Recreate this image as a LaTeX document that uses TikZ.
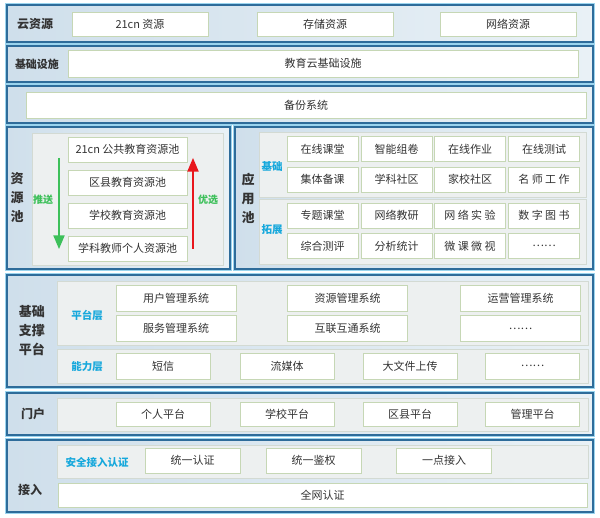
\documentclass[tikz,border=0pt]{standalone}
\usepackage{fontspec}
\setmainfont{Noto Sans CJK SC}
\usepackage{xcolor}
\usetikzlibrary{
    arrows
}
\definecolor{frameblue}{HTML}{2E6C9A}
\definecolor{frameglow}{HTML}{9AD4EE}
\definecolor{fillleft}{HTML}{CFDFEB}
\definecolor{fillright}{HTML}{E9F1F6}
\definecolor{panelfill}{HTML}{EDF0F0}
\definecolor{panelline}{HTML}{D3DAD3}
\definecolor{cellline}{HTML}{C6D7B5}
\definecolor{textgray}{HTML}{333333}
\definecolor{tagcyan}{HTML}{16A8DC}
\definecolor{pushgreen}{HTML}{3DC05A}
\definecolor{pickred}{HTML}{E8161C}
\tikzset{
    % outer band of one layer
    band/.style={
        draw=frameblue, line width=1.3pt,
        left color=fillleft, right color=fillright,
        preaction={draw=frameglow, line width=3.2pt}
    },
    % grey inner panel
    panel/.style={draw=panelline, fill=panelfill, line width=0.6pt},
    % white box with text
    cellbox/.style 2 args={
        draw=cellline, fill=white, line width=0.8pt,
        minimum width=#1, minimum height=#2, inner sep=0pt,
        font=\fontsize{11}{13}\selectfont, text=textgray
    },
    rowlabel/.style={font=\bfseries\fontsize{12}{17}\selectfont, text=textgray, align=center, inner sep=0pt},
    layertag/.style={font=\bfseries\fontsize{10.5}{12}\selectfont, text=tagcyan, inner sep=0pt},
    arrowlabel/.style={font=\bfseries\fontsize{10}{12}\selectfont, text=pushgreen, inner sep=0pt},
    push/.style={draw=pushgreen, line width=2.2pt, -triangle 45},
    pick/.style={draw=pickred, line width=2.2pt, -triangle 45}
}
\begin{document}
\begin{tikzpicture}[x=1pt, y=-1pt]
    \useasboundingbox (0,0) rectangle (600,518);
    % layer bands
    \foreach \ya/\yb in {5/42, 46/82, 86/123, 275/387, 393/435, 440/512} {
        \path[band] (7,\ya) rectangle (593,\yb);
    }
    \path[band] (7,127) rectangle (230,269);
    \path[band] (235,127) rectangle (593,269);
    % inner panels
    \path[panel] (32,133) rectangle (223,265);
    \path[panel] (259,132) rectangle (586,197);
    \path[panel] (259,199) rectangle (586,264);
    \path[panel] (57,281) rectangle (588,345);
    \path[panel] (57,349) rectangle (588,383);
    \path[panel] (57,398) rectangle (588,431);
    \path[panel] (57,445) rectangle (588,478);

    % cloud resources
    \node[rowlabel] (l1) at (35,24) {云资源};
    \foreach \n/\x/\t in {c1/140/21cn 资源, c2/325/存储资源, c3/508/网络资源} {
        \node[cellbox={136pt}{24pt}] (\n) at (\x,24) {\t};
    }
    % infrastructure
    \node[rowlabel, font=\bfseries\fontsize{11}{13}\selectfont] (l2) at (37,64) {基础设施};
    \node[cellbox={510pt}{27pt}] (i1) at (323,63.5) {教育云基础设施};
    % backup
    \node[cellbox={560pt}{26pt}] (b1) at (306,105) {备份系统};

    % resource pool
    \node[rowlabel, font=\bfseries\fontsize{13}{19}\selectfont] (l3) at (17,198) {资\\源\\池};
    \foreach \n/\y/\t in {p1/149.5/21cn 公共教育资源池, p2/182.5/区县教育资源池,
                          p3/215.5/学校教育资源池, p4/248.5/学科教师个人资源池} {
        \node[cellbox={119pt}{25pt}] (\n) at (127.5,\y) {\t};
    }
    \coordinate (s1) at (59,158);
    \coordinate (s2) at (59,249);
    \coordinate (u1) at (193,249);
    \coordinate (u2) at (193,158);
    \draw[push] (s1) -- (s2);
    \draw[pick] (u1) -- (u2);
    \node[arrowlabel] (n1) at (43,200) {推送};
    \node[arrowlabel] (n2) at (208,200) {优选};

    % application pool
    \node[rowlabel, font=\bfseries\fontsize{13}{19}\selectfont] (l4) at (248,198) {应\\用\\池};
    \node[layertag] (g1) at (272,167) {基础};
    \node[layertag] (g2) at (272,230) {拓展};
    \foreach \r/\y/\ta/\tb/\tc/\td in {1/149/在线课堂/智能组卷/在线作业/在线测试,
                                       2/179.5/集体备课/学科社区/家校社区/名 师 工 作,
                                       3/215.5/专题课堂/网络教研/网 络 实 验/数 字 图 书,
                                       4/246/综合测评/分析统计/微 课 微 视/……} {
        \node[cellbox={71pt}{25pt}] (a\r-1) at (322.5,\y) {\ta};
        \node[cellbox={71pt}{25pt}] (a\r-2) at (396.5,\y) {\tb};
        \node[cellbox={71pt}{25pt}] (a\r-3) at (470,\y) {\tc};
        \node[cellbox={71pt}{25pt}] (a\r-4) at (544,\y) {\td};
    }

    % support platform
    \node[rowlabel, font=\bfseries\fontsize{13}{19}\selectfont] (l5) at (32,331) {基础\\支撑\\平台};
    \node[layertag] (g3) at (87,315) {平台层};
    \node[layertag] (g4) at (87,367) {能力层};
    \foreach \n/\x/\ta/\tb in {m1/176/用户管理系统/服务管理系统,
                               m2/347.5/资源管理系统/互联互通系统,
                               m3/520.5/运营管理系统/……} {
        \node[cellbox={120pt}{26pt}] (\n a) at (\x,298) {\ta};
        \node[cellbox={120pt}{26pt}] (\n b) at (\x,328.5) {\tb};
    }
    \foreach \n/\x/\t in {k1/163/短信, k2/287/流媒体, k3/410/大文件上传, k4/532.5/……} {
        \node[cellbox={94pt}{26pt}] (\n) at (\x,366) {\t};
    }

    % portal
    \node[rowlabel] (l6) at (33,414) {门户};
    \foreach \n/\x/\t in {h1/163/个人平台, h2/287/学校平台, h3/410/区县平台, h4/532.5/管理平台} {
        \node[cellbox={94pt}{24pt}] (\n) at (\x,414) {\t};
    }

    % access
    \node[rowlabel] (l7) at (30,490) {接入};
    \node[layertag] (g5) at (97,463) {安全接入认证};
    \foreach \n/\x/\t in {e1/192.5/统一认证, e2/313.5/统一鉴权, e3/444/一点接入} {
        \node[cellbox={95pt}{25pt}] (\n) at (\x,460.5) {\t};
    }
    \node[cellbox={529pt}{24pt}] (e4) at (322.5,495) {全网认证};
\end{tikzpicture}
\end{document}
